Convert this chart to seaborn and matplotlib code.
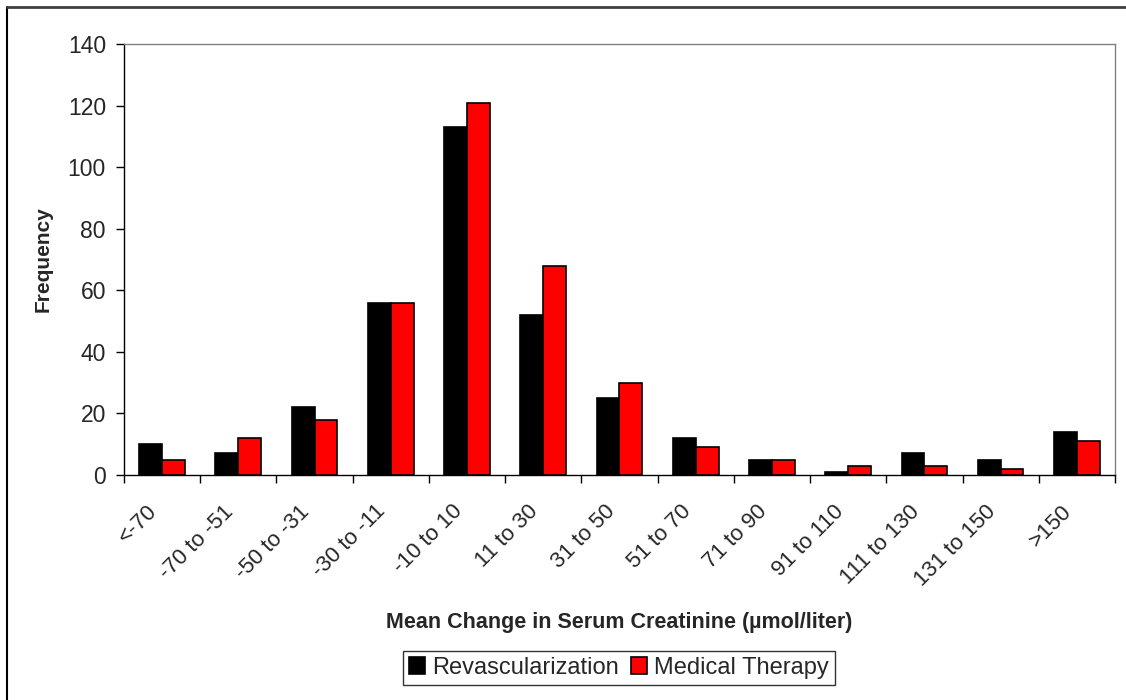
import pandas as pd
import numpy as np
import matplotlib
matplotlib.use('Agg')
import matplotlib.pyplot as plt
import matplotlib.transforms as mtransforms
import seaborn as sns

categories = ['<-70', '-70 to -51', '-50 to -31', '-30 to -11', '-10 to 10', '11 to 30',
              '31 to 50', '51 to 70', '71 to 90', '91 to 110', '111 to 130', '131 to 150', '>150']
revasc = [10, 7, 22, 56, 113, 52, 25, 12, 5, 1, 7, 5, 14]
medical = [5, 12, 18, 56, 121, 68, 30, 9, 5, 3, 3, 2, 11]
groups = ['Revascularization', 'Medical Therapy']

df = pd.DataFrame({
    'bin': categories * 2,
    'count': revasc + medical,
    'group': [groups[0]] * len(categories) + [groups[1]] * len(categories),
})

sns.set_style('white')
plt.rcParams['font.family'] = ['Liberation Sans', 'DejaVu Sans']

fig = plt.figure(figsize=(11.26, 7), dpi=100)
ax = fig.add_axes([0.1101, 0.3214, 0.8801, 0.6157])

sns.barplot(data=df, x='bin', y='count', hue='group', order=categories,
            hue_order=groups, palette=['#000000', '#ff0000'], width=0.6, gap=0,
            edgecolor='black', linewidth=1.2, saturation=1, ax=ax, legend=True)

ax.set_xlim(-0.5, len(categories) - 0.5)
ax.set_ylim(0, 140)
ax.set_yticks(range(0, 141, 20))
ax.tick_params(axis='y', labelsize=16.5, length=6, width=1, pad=7, direction='out',
               left=True, color='black')
ax.set_xticks(range(len(categories)))
ax.set_xticklabels(categories, rotation=45, ha='right', va='center',
                   rotation_mode='anchor', fontsize=16)
ax.tick_params(axis='x', which='major', length=0, pad=24)
ax.set_xticks(np.arange(-0.5, len(categories), 1.0), minor=True)
ax.tick_params(axis='x', which='minor', length=6, width=1, bottom=True, color='black')

# nudge rotated labels a little to the left, as in the source
shift = mtransforms.ScaledTranslation(-8 / 100, 0, fig.dpi_scale_trans)
for lbl in ax.get_xticklabels():
    lbl.set_transform(lbl.get_transform() + shift)

for side in ['top', 'right']:
    ax.spines[side].set_color('#808080')
    ax.spines[side].set_linewidth(1)
for side in ['left', 'bottom']:
    ax.spines[side].set_color('black')
    ax.spines[side].set_linewidth(1)

ax.set_ylabel('Frequency', fontsize=15, fontweight='bold')
ax.yaxis.set_label_coords(-0.072, 0.5)
ax.set_xlabel('Mean Change in Serum Creatinine (\u00b5mol/liter)', fontsize=15.5,
              fontweight='bold')
ax.xaxis.set_label_coords(0.5, -0.318)

handles, labels = ax.get_legend_handles_labels()
ax.legend(handles, labels, loc='center', bbox_to_anchor=(0.5497, 0.0457),
          bbox_transform=fig.transFigure, ncol=2, fontsize=17, frameon=True,
          fancybox=False, edgecolor='black', handlelength=0.7, handleheight=0.7,
          handletextpad=0.3, columnspacing=0.5, borderpad=0.25)
ax.get_legend().get_frame().set_linewidth(1)

# outer chart border (top and left edges visible in the source)
fig.add_artist(plt.Line2D([0.0065, 0.0065], [0.0, 0.99], transform=fig.transFigure,
                          color='black', linewidth=1.5))
fig.add_artist(plt.Line2D([0.0065, 1.0], [0.99, 0.99], transform=fig.transFigure,
                          color='#404040', linewidth=2))

fig.savefig('out.png', dpi=100, facecolor='white')
